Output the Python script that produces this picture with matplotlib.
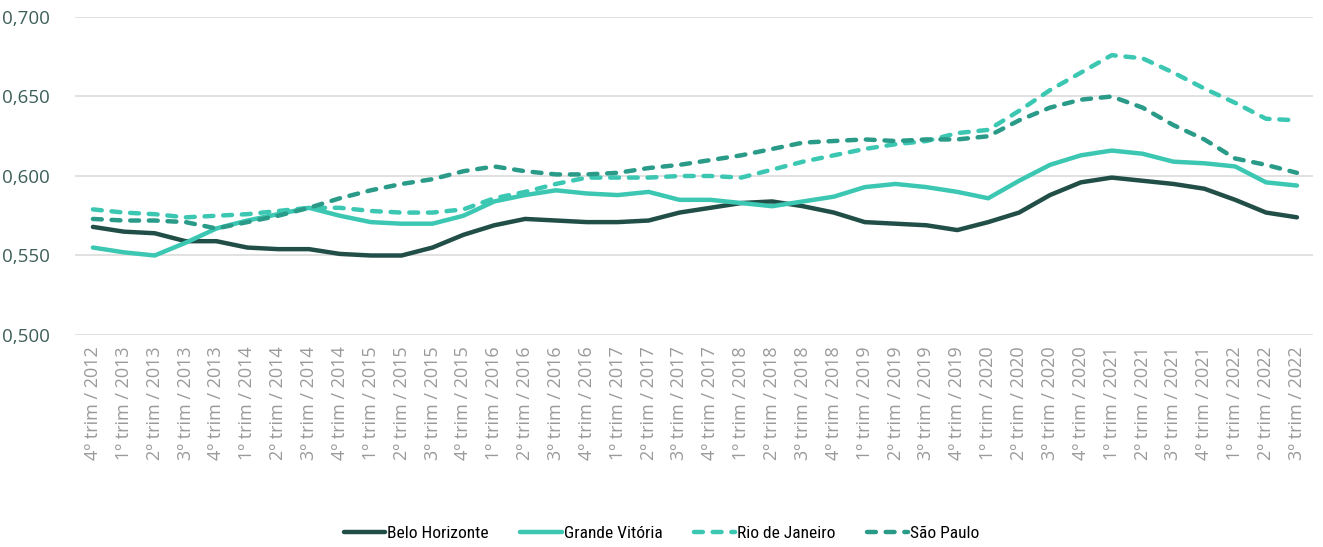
import matplotlib
matplotlib.use("Agg")
import matplotlib.pyplot as plt
from matplotlib.ticker import FuncFormatter

# ──────────────────────────────────────────
# Data
# ──────────────────────────────────────────

quarters = ["4º trim / 2012"]
for year in range(2013, 2023):
    for q in range(1, 5):
        if year == 2022 and q == 4:
            break
        quarters.append(f"{q}º trim / {year}")

belo_horizonte = [0.568, 0.565, 0.564, 0.559, 0.559, 0.555, 0.554, 0.554, 0.551, 0.550,
                  0.550, 0.555, 0.563, 0.569, 0.573, 0.572, 0.571, 0.571, 0.572, 0.577,
                  0.580, 0.583, 0.584, 0.581, 0.577, 0.571, 0.570, 0.569, 0.566, 0.571,
                  0.577, 0.588, 0.596, 0.599, 0.597, 0.595, 0.592, 0.585, 0.577, 0.574]

grande_vitoria = [0.555, 0.552, 0.550, 0.558, 0.567, 0.572, 0.576, 0.580, 0.575, 0.571,
                  0.570, 0.570, 0.575, 0.584, 0.588, 0.591, 0.589, 0.588, 0.590, 0.585,
                  0.585, 0.583, 0.581, 0.584, 0.587, 0.593, 0.595, 0.593, 0.590, 0.586,
                  0.597, 0.607, 0.613, 0.616, 0.614, 0.609, 0.608, 0.606, 0.596, 0.594]

rio_de_janeiro = [0.579, 0.577, 0.576, 0.574, 0.575, 0.576, 0.578, 0.580, 0.580, 0.578,
                  0.577, 0.577, 0.579, 0.586, 0.590, 0.595, 0.599, 0.599, 0.599, 0.600,
                  0.600, 0.599, 0.604, 0.609, 0.613, 0.617, 0.620, 0.622, 0.627, 0.629,
                  0.641, 0.654, 0.665, 0.676, 0.674, 0.665, 0.655, 0.646, 0.636, 0.635]

sao_paulo = [0.573, 0.572, 0.572, 0.571, 0.567, 0.571, 0.575, 0.580, 0.586, 0.591,
             0.595, 0.598, 0.603, 0.606, 0.603, 0.601, 0.601, 0.602, 0.605, 0.607,
             0.610, 0.613, 0.617, 0.621, 0.622, 0.623, 0.622, 0.623, 0.623, 0.625,
             0.635, 0.643, 0.648, 0.650, 0.643, 0.632, 0.623, 0.611, 0.607, 0.602]

y_ticks = [0.500, 0.550, 0.600, 0.650, 0.700]

# ──────────────────────────────────────────
# Plot
# ──────────────────────────────────────────

dark = "#214f47"
turq = "#3cc7b3"
teal = "#2a9b88"

fig = plt.figure(figsize=(13.23, 5.47), dpi=100)
ax = fig.add_axes([75 / 1323, 1 - 335 / 547, (1313 - 75) / 1323, (335 - 17) / 547])

x = range(len(quarters))
lw = 3.2
ax.plot(x, belo_horizonte, color=dark, lw=lw, solid_capstyle="round",
        label="Belo Horizonte", zorder=3)
ax.plot(x, grande_vitoria, color=turq, lw=lw, solid_capstyle="round",
        label="Grande Vitória", zorder=3)
ax.plot(x, rio_de_janeiro, color=turq, lw=lw, dashes=(2.0, 2.2),
        dash_capstyle="round", label="Rio de Janeiro", zorder=3)
ax.plot(x, sao_paulo, color=teal, lw=lw, dashes=(2.0, 2.2),
        dash_capstyle="round", label="São Paulo", zorder=3)

ax.set_xlim(-0.58, len(quarters) - 1 + 0.52)
ax.set_ylim(0.5, 0.7)
ax.set_yticks(y_ticks)
ax.yaxis.set_major_formatter(FuncFormatter(lambda v, p: f"{v:.3f}".replace(".", ",")))
ax.grid(axis="y", color="#dcdcdc", lw=1.2)
ax.set_axisbelow(True)
for s in ax.spines.values():
    s.set_visible(False)

ax.set_xticks(list(x))
ax.set_xticklabels(quarters, rotation=90, fontsize=13, color="#9a9a9a",
                   family=["Open Sans", "DejaVu Sans"])
ax.tick_params(axis="x", length=0, pad=8)
ax.tick_params(axis="y", length=0, pad=18, labelsize=13.5, labelcolor="#3d5f59")
for t in ax.get_yticklabels():
    t.set_family(["Open Sans", "DejaVu Sans"])

leg = fig.legend(loc="center", bbox_to_anchor=(0.5, 1 - 533 / 547), ncol=4,
                 frameon=False, handlelength=2.4, columnspacing=1.8,
                 handletextpad=0.1,
                 prop={"family": ["Liberation Sans Narrow", "Roboto Condensed", "Roboto", "DejaVu Sans"],
                       "size": 12.5})

fig.savefig("out.png", dpi=100, facecolor="white")
